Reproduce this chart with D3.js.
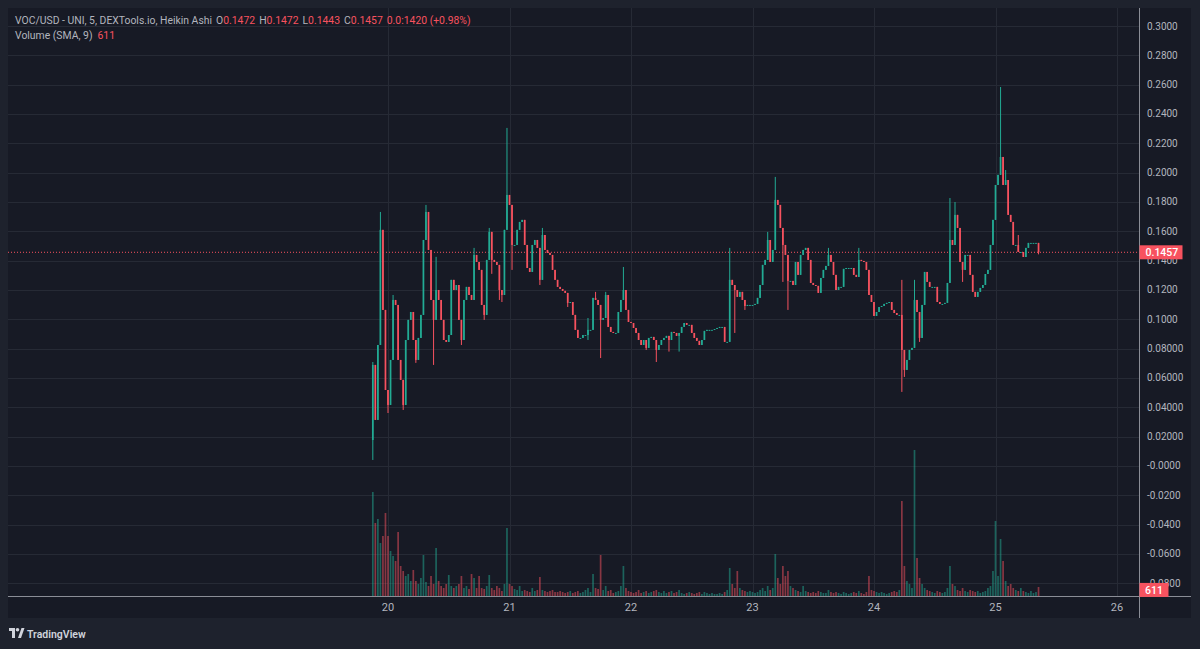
<!DOCTYPE html>
<html><head><meta charset="utf-8">
<script src="https://cdn.jsdelivr.net/npm/d3@7"></script>
<style>html,body{margin:0;padding:0;background:#1e222d;overflow:hidden}svg{display:block}</style>
</head><body>
<svg id="chart" width="1200" height="649"></svg>
<script>
// ---------- DATA (30-minute Heikin Ashi candles) ----------
const firstOpen = 0.0177;
const closes = [
0.0689,0.0314,0.0825,0.1610,0.1064,0.0518,0.0416,0.0723,0.1132,0.1098,
0.0723,0.0587,0.0416,0.0859,0.0996,0.1050,0.0859,0.0723,0.0873,0.1030,
0.1541,0.1732,0.1473,0.1132,0.0996,0.1200,0.1132,0.0996,0.0859,0.0846,
0.0893,0.1269,0.1200,0.1234,0.0996,0.0859,0.1132,0.1221,0.1166,0.1132,
0.1439,0.1391,0.1337,0.1098,0.1030,0.1405,0.1596,0.1405,0.1391,0.1371,
0.1200,0.1166,0.1610,0.1848,0.1780,0.1507,0.1507,0.1610,0.1664,0.1678,
0.1507,0.1350,0.1323,0.1507,0.1541,0.1487,0.1269,0.1575,0.1473,0.1453,
0.1439,0.1337,0.1269,0.1221,0.1207,0.1194,0.1180,0.1112,0.1118,0.1030,
0.0928,0.0873,0.0873,0.0893,0.0893,0.0928,0.0928,0.1146,0.1132,0.1098,
0.0996,0.1009,0.1166,0.0948,0.0914,0.0907,0.0907,0.1050,0.1132,0.1200,
0.1064,0.0982,0.0975,0.0941,0.0907,0.0859,0.0825,0.0859,0.0805,0.0873,
0.0880,0.0859,0.0791,0.0825,0.0859,0.0873,0.0887,0.0859,0.0914,0.0907,
0.0887,0.0907,0.0948,0.0975,0.0962,0.0962,0.0907,0.0873,0.0853,0.0825,
0.0859,0.0921,0.0928,0.0928,0.0928,0.0934,0.0941,0.0948,0.0948,0.0846,
0.0846,0.1269,0.1234,0.1200,0.1153,0.1187,0.1132,0.1091,0.1098,0.1098,
0.1098,0.1105,0.1146,0.1234,0.1371,0.1405,0.1541,0.1391,0.1473,0.1814,
0.1780,0.1623,0.1507,0.1439,0.1262,0.1262,0.1234,0.1391,0.1303,0.1439,
0.1473,0.1487,0.1405,0.1248,0.1234,0.1228,0.1180,0.1282,0.1337,0.1364,
0.1439,0.1391,0.1303,0.1200,0.1221,0.1221,0.1344,0.1350,0.1350,0.1350,
0.1303,0.1289,0.1405,0.1398,0.1391,0.1337,0.1166,0.1118,0.1023,0.1050,
0.1084,0.1091,0.1105,0.1112,0.1118,0.1064,0.1043,0.1030,0.1030,0.0791,
0.0655,0.0723,0.0791,0.0805,0.1132,0.1050,0.0873,0.1098,0.1323,0.1255,
0.1221,0.1221,0.1221,0.1118,0.1105,0.1105,0.1112,0.1248,0.1541,0.1507,
0.1712,0.1623,0.1391,0.1337,0.1439,0.1439,0.1303,0.1187,0.1153,0.1187,
0.1214,0.1234,0.1309,0.1337,0.1507,0.1678,0.1916,0.1985,0.2107,0.1916,
0.1950,0.1712,0.1664,0.1507,0.1507,0.1459,0.1459,0.1425,0.1487,0.1521,
0.1521,0.1521,0.1521,0.1457
];
// wick extremes beyond the bodies: [candle index, price]
const wickHighs = [[0,0.0709],[3,0.1732],[8,0.1166],[21,0.1780],[25,0.1426],[40,0.1487],[46,0.1623],
  [53,0.2305],[67,0.1623],[85,0.1009],[88,0.1187],[92,0.1187],[99,0.1357],[141,0.1487],[156,0.1596],
  [159,0.1971],[180,0.1487],[192,0.1487],[209,0.1269],[214,0.1269],[228,0.1827],[230,0.1800],
  [248,0.2584],[250,0.2018],[255,0.1575]];
const wickLows = [[0,0.0041],[6,0.0361],[12,0.0382],[17,0.0703],[24,0.0689],[35,0.0825],[44,0.0996],
  [47,0.1310],[50,0.1132],[51,0.1118],[55,0.1337],[66,0.1234],[77,0.1084],[85,0.0859],[90,0.0736],
  [108,0.0791],[112,0.0709],[117,0.0780],[121,0.0780],[143,0.0907],[147,0.1064],[162,0.1255],
  [164,0.1064],[209,0.0505],[210,0.0607],[211,0.0675],[216,0.0846],[233,0.1255],[263,0.1443]];
const volumes = [
15600,10950,11550,7950,9000,12450,9000,6750,6000,5250,
9600,4500,3750,3000,3300,2250,3900,2250,1800,2700,
6150,2100,1500,3000,1800,7200,2250,1500,1200,1800,
3150,1500,1200,1500,1800,3000,1200,1500,1050,3300,
2700,1200,3000,1200,1050,1500,3150,1200,900,1500,
1200,750,1800,10200,1800,1500,1050,900,1500,750,
900,750,600,1200,750,900,2850,900,750,600,
750,900,600,600,750,600,450,600,750,450,
600,750,450,600,900,1200,600,3300,1200,1050,
6150,900,1500,750,900,450,600,750,1500,4500,
1200,750,600,450,600,900,450,600,750,450,
600,750,900,600,450,750,450,600,750,450,
600,900,450,300,450,600,450,300,450,600,
300,600,450,300,450,300,300,450,300,600,
900,4200,1800,1200,3750,1200,900,750,600,750,
600,450,600,900,1200,750,1500,900,1200,6300,
2700,1800,4500,3000,3750,1500,1200,900,750,600,
1500,750,600,450,600,450,750,600,450,450,
900,600,450,600,450,300,600,450,300,450,
600,450,750,450,300,600,3000,900,750,600,
450,600,450,300,450,600,750,600,900,14250,
4500,2250,1800,1200,21900,5700,2700,1800,1200,900,
750,600,450,750,600,450,600,1200,4500,1800,
1500,900,750,1200,750,600,900,750,600,750,
450,600,750,1200,1500,3750,11250,3000,8550,5250,
2250,1500,1800,1200,900,750,1200,750,600,450,
750,450,600,1350
];
const yTickValues = [0.30,0.28,0.26,0.24,0.22,0.20,0.18,0.16,0.14,0.12,0.10,0.08,0.06,0.04,0.02,0,-0.02,-0.04,-0.06,-0.08];
const yTickLabels = ["0.3000","0.2800","0.2600","0.2400","0.2200","0.2000","0.1800","0.1600","0.1400","0.1200","0.1000",
  "0.08000","0.06000","0.04000","0.02000","-0.0000","-0.0200","-0.0400","-0.0600","-0.0800"];
const xTickDays = [20,21,22,23,24,25,26];
const lastPrice = 0.1457, lastPriceLabel = "0.1457";
const volSma = 611, volSmaLabel = "611";
const legendTitle = "VOC/USD - UNI, 5, DEXTools.io, Heikin Ashi";
const legendOHLC = [["O","0.1472"],["H","0.1472"],["L","0.1443"],["C","0.1457"]];
const legendChange = "0.0:1420 (+0.98%)";

// ---------- LAYOUT ----------
const UP="#22ab94", DOWN="#f7525f", TXT="#b2b5be", GRID="#262a35";
const P={l:8,t:8,r:1139.5,b:596}, AX={r:1191,b:618};
const svg=d3.select("#chart");
svg.append("rect").attr("width",1200).attr("height",649).attr("fill","#1e222d");
svg.append("rect").attr("x",P.l).attr("y",P.t).attr("width",AX.r-P.l).attr("height",AX.b-P.t).attr("fill","#171a25");

const START=Date.UTC(2024,0,19,21,0), STEP=30*60*1000;
const x=d3.scaleUtc().domain([new Date(Date.UTC(2024,0,20)),new Date(Date.UTC(2024,0,26))]).range([388,1117]);
const y=d3.scaleLinear().domain([-0.08,0.30]).range([583.3,26]);
const yVol=d3.scaleLinear().domain([0,30000]).range([P.b,P.b-200]);

const candles=closes.map((c,i)=>{const o=i===0?firstOpen:closes[i-1];
  return {t:new Date(START+i*STEP),o,c,h:Math.max(o,c),l:Math.min(o,c),v:volumes[i]};});
wickHighs.forEach(([i,v])=>candles[i].h=Math.max(candles[i].h,v));
wickLows.forEach(([i,v])=>candles[i].l=Math.min(candles[i].l,v));

svg.append("clipPath").attr("id","plot").append("rect").attr("x",P.l).attr("y",P.t).attr("width",P.r-P.l).attr("height",P.b-P.t);
const g=svg.append("g").attr("clip-path","url(#plot)");

// grid
g.selectAll(".hg").data(yTickValues).join("line").attr("x1",P.l).attr("x2",P.r)
  .attr("y1",d=>Math.round(y(d))+0.5).attr("y2",d=>Math.round(y(d))+0.5).attr("stroke",GRID);
const dayDates=xTickDays.map(d=>new Date(Date.UTC(2024,0,d)));
g.selectAll(".vg").data(dayDates).join("line").attr("y1",P.t).attr("y2",P.b)
  .attr("x1",d=>Math.round(x(d))+0.5).attr("x2",d=>Math.round(x(d))+0.5).attr("stroke",GRID);

// volume
const bw=1.7;
g.selectAll(".vol").data(candles).join("rect")
  .attr("x",d=>x(d.t)-bw/2).attr("width",bw)
  .attr("y",d=>yVol(d.v)).attr("height",d=>P.b-yVol(d.v))
  .attr("fill",d=>d.c>=d.o?UP:DOWN).attr("opacity",0.5);

// last price dotted line
g.append("line").attr("x1",P.l).attr("x2",P.r).attr("y1",y(lastPrice)).attr("y2",y(lastPrice))
  .attr("stroke",DOWN).attr("stroke-dasharray","1,2").attr("stroke-width",1);

// candles
g.selectAll(".wick").data(candles).join("line")
  .attr("x1",d=>x(d.t)).attr("x2",d=>x(d.t)).attr("y1",d=>y(d.h)).attr("y2",d=>y(d.l))
  .attr("stroke",d=>d.c>=d.o?UP:DOWN).attr("stroke-width",1);
g.selectAll(".body").data(candles).join("rect")
  .attr("x",d=>x(d.t)-bw/2).attr("width",bw)
  .attr("y",d=>y(Math.max(d.o,d.c))).attr("height",d=>Math.max(1,Math.abs(y(d.o)-y(d.c))))
  .attr("fill",d=>d.c>=d.o?UP:DOWN);

// axes separators
svg.append("line").attr("x1",P.r).attr("x2",P.r).attr("y1",P.t).attr("y2",AX.b).attr("stroke","#8a8d96");
svg.append("line").attr("x1",P.l).attr("x2",AX.r).attr("y1",P.b+0.5).attr("y2",P.b+0.5).attr("stroke","#8a8d96");

// price axis labels
const font="Roboto, 'DejaVu Sans', sans-serif";
svg.append("g").selectAll("text").data(yTickValues).join("text")
  .attr("x",1147).attr("y",d=>y(d)).attr("dy","0.35em").attr("fill",TXT)
  .attr("font-family",font).attr("font-size",10).text((d,i)=>yTickLabels[i]);

// time axis labels
svg.append("g").selectAll("text").data(dayDates).join("text")
  .attr("x",d=>x(d)).attr("y",607).attr("dy","0.35em").attr("text-anchor","middle")
  .attr("fill",TXT).attr("font-family",font).attr("font-size",11).text((d,i)=>String(xTickDays[i]));

// last price label
svg.append("rect").attr("x",P.r).attr("y",y(lastPrice)-7).attr("width",43).attr("height",14).attr("fill",DOWN);
svg.append("text").attr("x",P.r+6).attr("y",y(lastPrice)).attr("dy","0.35em").attr("fill","#fff")
  .attr("font-family",font).attr("font-size",10.5).attr("font-weight",500).text(lastPriceLabel);
// volume SMA label
svg.append("rect").attr("x",P.r).attr("y",yVol(volSma)-9).attr("width",29).attr("height",14).attr("fill",DOWN);
svg.append("text").attr("x",P.r+14.5).attr("y",yVol(volSma)-2).attr("dy","0.35em").attr("text-anchor","middle").attr("fill","#fff")
  .attr("font-family",font).attr("font-size",10.5).attr("font-weight",500).text(volSmaLabel);

// legend
const lg=svg.append("text").attr("x",15).attr("y",24).attr("font-family",font).attr("font-size",10.4).attr("fill",TXT);
lg.append("tspan").text(legendTitle);
legendOHLC.forEach(([k,v],i)=>{lg.append("tspan").attr("dx",4).text(k);lg.append("tspan").attr("fill",DOWN).text(v);});
lg.append("tspan").attr("dx",4).attr("fill",DOWN).text(legendChange);
const lg2=svg.append("text").attr("x",15).attr("y",39).attr("font-family",font).attr("font-size",10.4).attr("fill",TXT);
lg2.append("tspan").text("Volume (SMA, 9)");
lg2.append("tspan").attr("dx",5).attr("fill",DOWN).text(volSmaLabel);

// TradingView footer
const lo=svg.append("g").attr("transform","translate(9,628)").attr("fill","#d1d4dc");
lo.append("path").attr("d","M0 0h6v10h-3v-7h-3z");
lo.append("circle").attr("cx",8.5).attr("cy",1.8).attr("r",1.8);
lo.append("path").attr("d","M9 10l3.5-10h3l-3.5 10z");
svg.append("text").attr("x",27).attr("y",637.5).attr("fill","#d1d4dc").attr("font-family",font)
  .attr("font-size",10.5).attr("font-weight",600).text("TradingView");
</script>
</body></html>
